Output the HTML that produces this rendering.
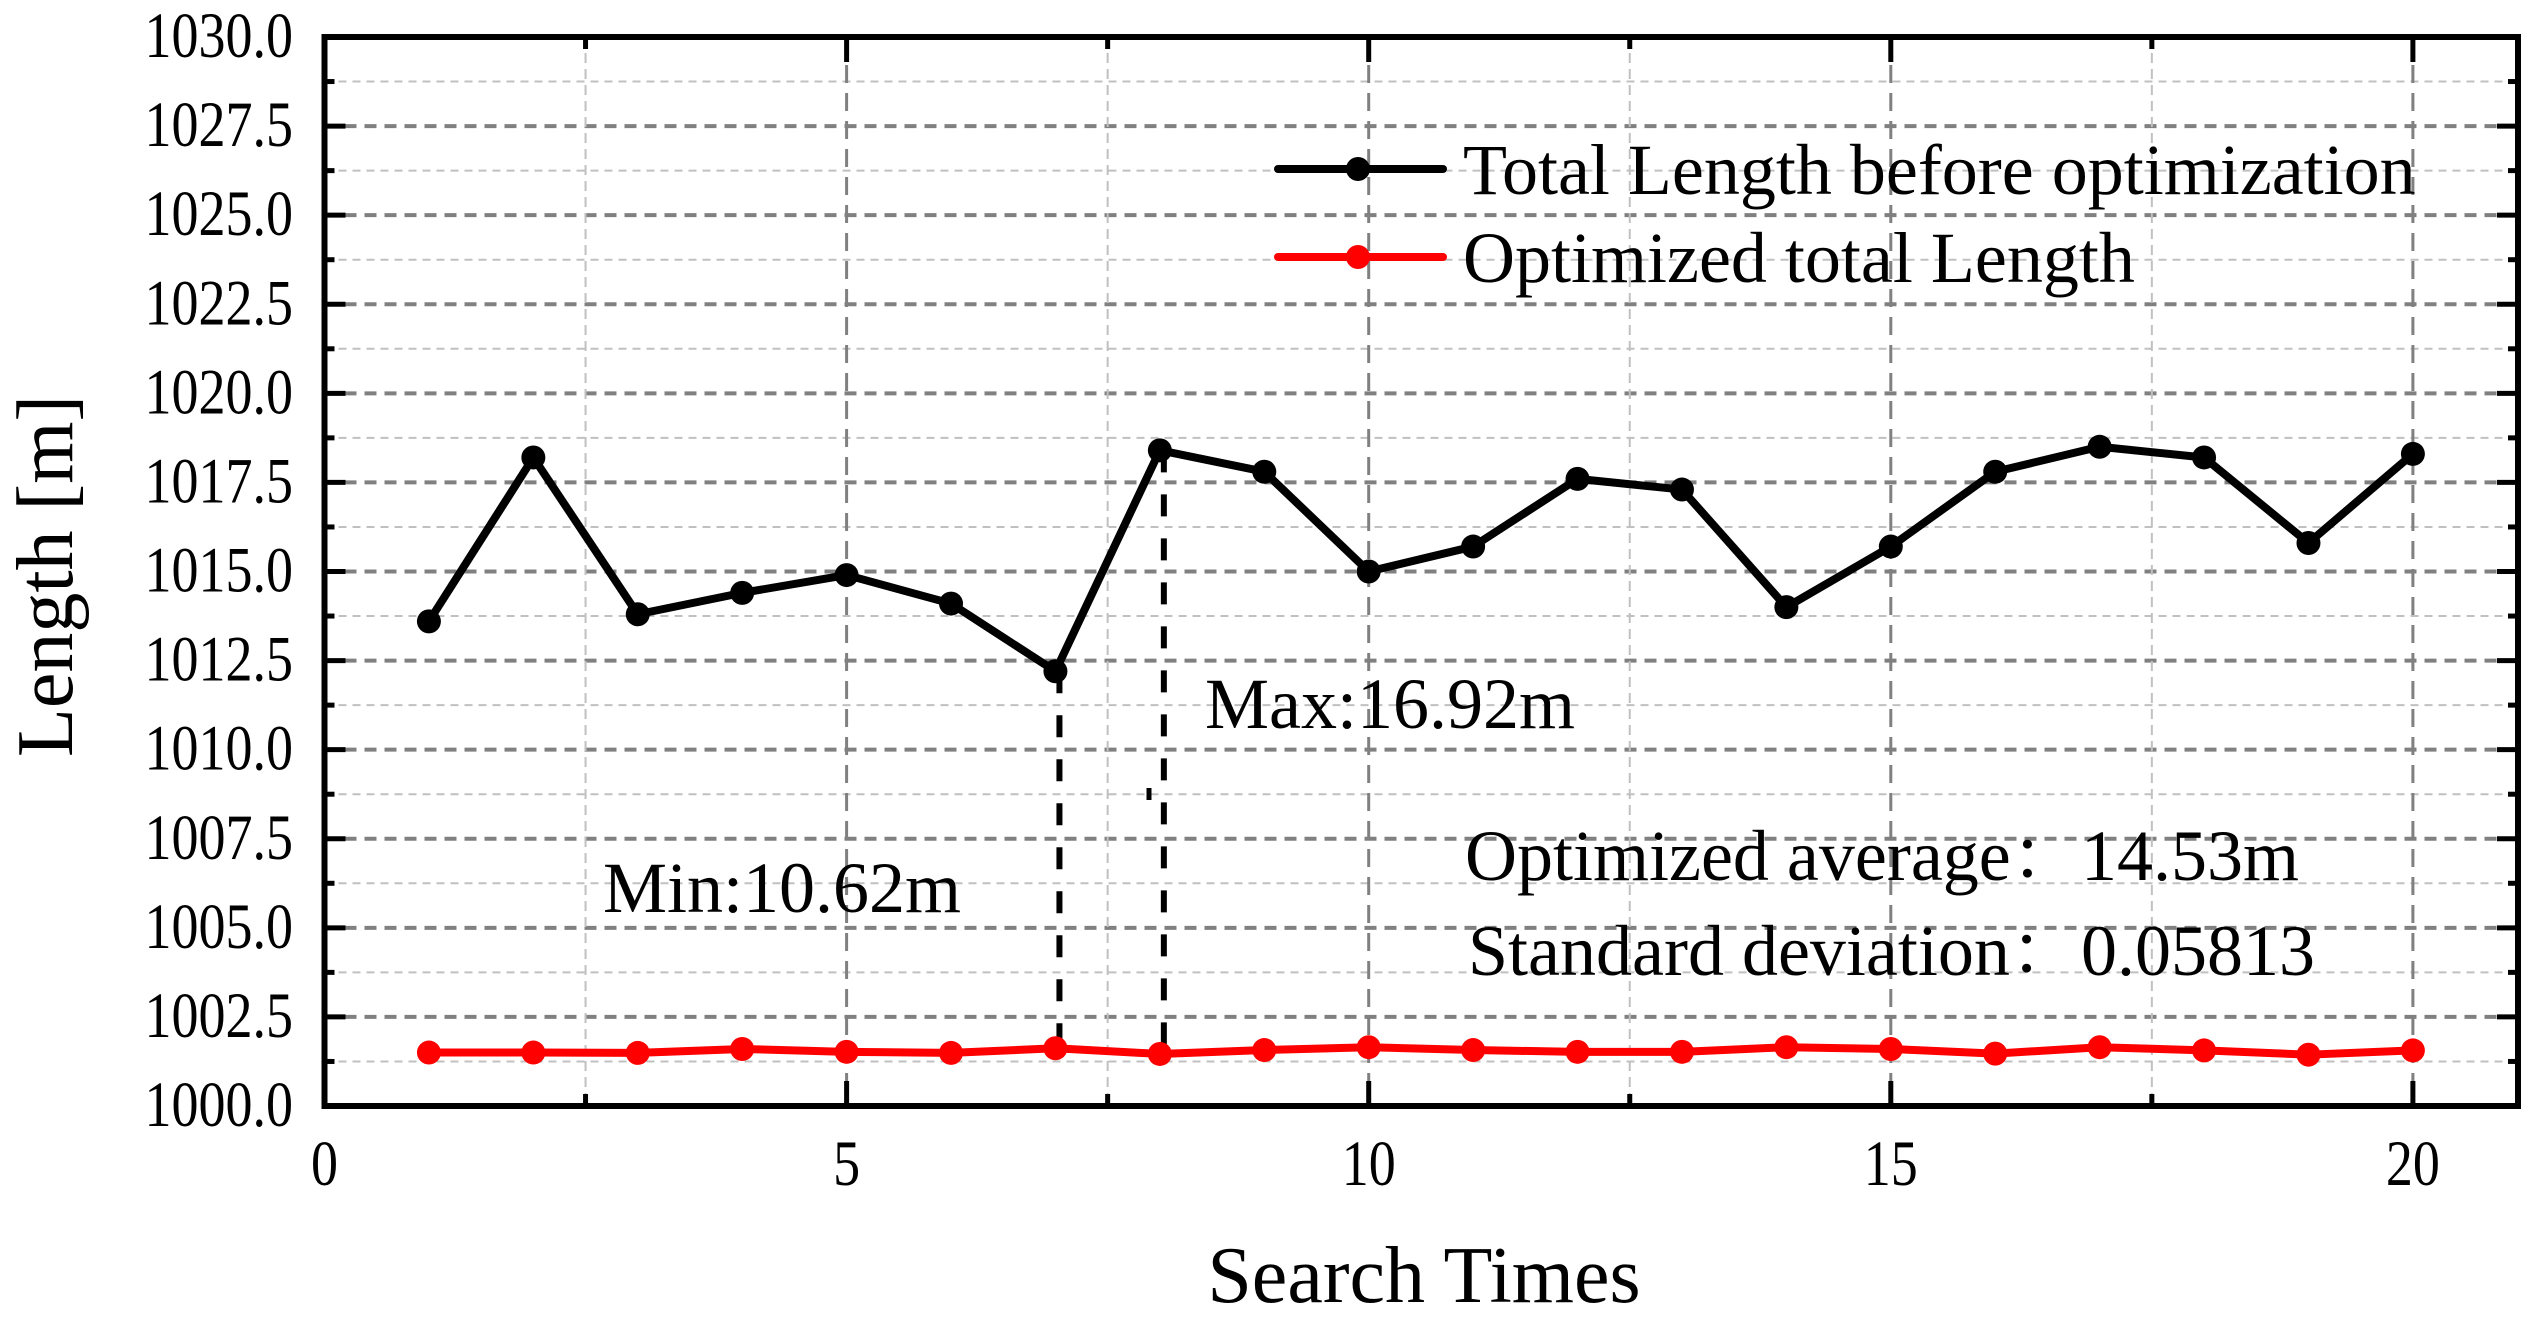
<!DOCTYPE html>
<html><head><meta charset="utf-8"><style>
html,body{margin:0;padding:0;background:#fff}
svg{display:block}
text{font-family:"Liberation Serif","Noto Serif CJK SC",serif;fill:#000}
</style></head><body>
<svg id="chart" width="2543" height="1320" viewBox="0 0 2543 1320" xmlns="http://www.w3.org/2000/svg">
<g id="grid"></g>
<g id="axes"></g>
<g id="annot"></g>
<g id="series"></g>
<g id="legend">
  <line x1="1278" y1="169" x2="1443" y2="169" stroke="#000" stroke-width="8" stroke-linecap="round"/>
  <circle cx="1358" cy="169" r="12" fill="#000"/>
  <text x="1463" y="194" font-size="72">Total Length before optimization</text>
  <line x1="1278" y1="257" x2="1443" y2="257" stroke="#f00" stroke-width="8" stroke-linecap="round"/>
  <circle cx="1358" cy="257" r="12" fill="#f00"/>
  <text x="1463" y="282" font-size="72">Optimized total Length</text>
</g>
<text x="1205" y="728" font-size="72">Max:16.92m</text>
<text x="603" y="912" font-size="72">Min:10.62m</text>
<text x="1465" y="880" font-size="72">Optimized average：</text>
<text x="2081" y="880" font-size="72">14.53m</text>
<text x="1468" y="975" font-size="72">Standard deviation：</text>
<text x="2081" y="975" font-size="72">0.05813</text>
<text x="1424" y="1302" font-size="80" text-anchor="middle">Search Times</text>
<text transform="translate(72,576) rotate(-90)" font-size="80" text-anchor="middle">Length [m]</text>
</svg>
<script>
const xValues=[1,2,3,4,5,6,7,8,9,10,11,12,13,14,15,16,17,18,19,20];
const beforeValues=[1013.6,1018.2,1013.8,1014.4,1014.9,1014.1,1012.2,1018.4,1017.8,1015.0,1015.7,1017.6,1017.3,1014.0,1015.7,1017.8,1018.5,1018.2,1015.8,1018.3];
const optimizedValues=[1001.5,1001.5,1001.49,1001.6,1001.52,1001.49,1001.62,1001.46,1001.57,1001.65,1001.57,1001.52,1001.52,1001.65,1001.6,1001.47,1001.65,1001.56,1001.44,1001.56];
const yTickLabels=["1000.0","1002.5","1005.0","1007.5","1010.0","1012.5","1015.0","1017.5","1020.0","1022.5","1025.0","1027.5","1030.0"];
const xTickLabels=["0","5","10","15","20"];
const minIndex=6, maxIndex=7;

const NS="http://www.w3.org/2000/svg";
const L=324.5,R=2518,T=37,B=1106;
const X0=0,X1=(R-L)/104.42,Y0=1000,Y1=1030;
const sx=v=>L+(v-X0)/(X1-X0)*(R-L);
const sy=v=>B-(v-Y0)/(Y1-Y0)*(B-T);
function mk(tag,attrs,parent){const e=document.createElementNS(NS,tag);for(const k in attrs)e.setAttribute(k,attrs[k]);parent.appendChild(e);return e;}
const grid=document.getElementById('grid'),axes=document.getElementById('axes'),annot=document.getElementById('annot'),series=document.getElementById('series');

for(let i=1;i<24;i++){
  const v=1000+i*1.25,y=sy(v),major=i%2===0;
  const g=mk('line',{x1:L,x2:R,y1:y,y2:y,stroke:major?'#808080':'#c0c0c0','stroke-width':major?4:2,'stroke-dasharray':major?'12 8':'8 6'},grid);
  
  
}
for(let i=1;i<=8;i++){
  const v=i*2.5,x=sx(v),major=i%2===0;
  const g=mk('line',{x1:x,x2:x,y1:T,y2:B,stroke:major?'#808080':'#c0c0c0','stroke-width':major?3:2,'stroke-dasharray':major?'18 10':'10 6'},grid);
  
  
}
const fr=mk('rect',{x:L,y:T,width:R-L,height:B-T,fill:'none',stroke:'#000','stroke-width':6},axes);


for(let i=0;i<=24;i++){
  const y=sy(1000+i*1.25),len=i%2===0?21:10;
  const t1=mk('line',{x1:L,x2:L+len,y1:y,y2:y,stroke:'#000','stroke-width':5},axes);
  
  
  const t2=mk('line',{x1:R,x2:R-len,y1:y,y2:y,stroke:'#000','stroke-width':5},axes);
  
  
}
yTickLabels.forEach((s,i)=>{
  const yy=sy(1000+i*2.5)+20;
  const t=mk('text',{x:0,y:0,'font-size':54,'text-anchor':'end',transform:'translate(293,'+yy+') scale(1,1.2)'},axes);
  t.textContent=s;
  
  
});
for(let i=0;i<=8;i++){
  const x=sx(i*2.5),len=i%2===0?25:12;
  const t1=mk('line',{x1:x,x2:x,y1:B,y2:B-len,stroke:'#000','stroke-width':5},axes);
  
  
  const t2=mk('line',{x1:x,x2:x,y1:T,y2:T+len,stroke:'#000','stroke-width':5},axes);
  
  
}
xTickLabels.forEach((s,i)=>{
  const t=mk('text',{x:0,y:0,'font-size':54,'text-anchor':'middle',transform:'translate('+sx(i*5)+',1185) scale(1,1.2)'},axes);
  t.textContent=s;
  
  
});
[[minIndex,'min-dashed-line'],[maxIndex,'max-dashed-line']].forEach(([k,n])=>{
  const x=sx(xValues[k])+4;
  const l=mk('line',{x1:x,x2:x,y1:sy(beforeValues[k]),y2:sy(optimizedValues[k]),stroke:'#000','stroke-width':6,'stroke-dasharray':'22 22'},annot);
  
  
});
const mark=mk('line',{x1:1149,x2:1149,y1:788,y2:800,stroke:'#000','stroke-width':5},annot);


function drawSeries(vals,color,name){
  const pts=xValues.map((x,i)=>sx(x)+','+sy(vals[i])).join(' ');
  const pl=mk('polyline',{points:pts,fill:'none',stroke:color,'stroke-width':8,'stroke-linejoin':'round'},series);
  
  
  xValues.forEach((x,i)=>{
    const c=mk('circle',{cx:sx(x),cy:sy(vals[i]),r:12,fill:color},series);
    
    
  });
}
drawSeries(beforeValues,'#000','before-optimization');
drawSeries(optimizedValues,'#f00','optimized');
</script>
</body></html>
